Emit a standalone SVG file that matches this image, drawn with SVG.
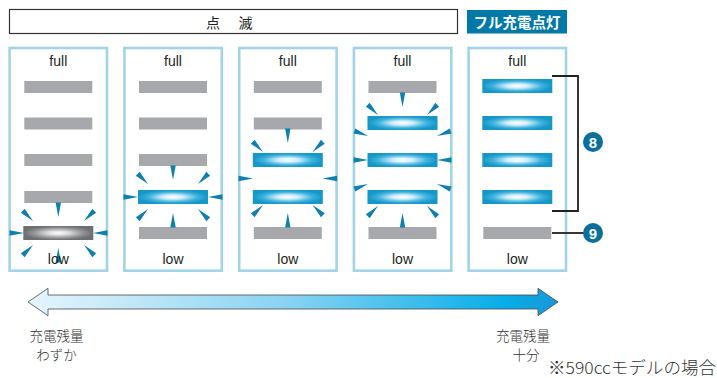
<svg xmlns="http://www.w3.org/2000/svg" xmlns:xlink="http://www.w3.org/1999/xlink" width="717" height="378" viewBox="0 0 717 378">
<style>
.panel{fill:#fff;stroke:#a3d3e6;stroke-width:2.6}
.gray{fill:#a7a8ab}
.lit{fill:url(#litG)}
.litgray{fill:url(#grayG)}
.lbl{font-family:"Liberation Sans",Arial,sans-serif;font-size:14px;fill:#231f20;text-anchor:middle}
.jp{font-family:"Noto Sans CJK JP","Liberation Sans",sans-serif;fill:#231f20}
.thin{font-weight:300;fill:#333}
.ray{fill:#0e7fae}
.num{font-family:"Liberation Sans",Arial,sans-serif;font-size:15px;font-weight:bold;fill:#fff;text-anchor:middle}
.brk{fill:none;stroke:#231f20;stroke-width:1.8}
</style>
<defs>
<radialGradient id="litG" cx="50%" cy="50%" r="50%">
<stop offset="0" stop-color="#ffffff"/>
<stop offset="0.3" stop-color="#d2eef9"/>
<stop offset="0.7" stop-color="#3fb2dd"/>
<stop offset="1" stop-color="#1598c8"/>
</radialGradient>
<radialGradient id="grayG" cx="50%" cy="50%" r="50%">
<stop offset="0" stop-color="#ffffff"/>
<stop offset="0.3" stop-color="#dcdcdd"/>
<stop offset="0.7" stop-color="#949597"/>
<stop offset="1" stop-color="#6e6f72"/>
</radialGradient>
<linearGradient id="arrG" x1="0" y1="0" x2="1" y2="0">
<stop offset="0" stop-color="#e6f5fc"/>
<stop offset="0.5" stop-color="#86d2f1"/>
<stop offset="0.9" stop-color="#06aee8"/>
<stop offset="1" stop-color="#1896d6"/>
</linearGradient>
<path id="ray" d="M0,0 L-2.7,-14.5 L2.7,-14.5 Z"/>
</defs>

<g id="header-blink">
<rect x="9.5" y="9.5" width="448" height="24" fill="#fff" stroke="#333" stroke-width="1.2"/>
<text class="jp" x="213" y="28" font-size="14" text-anchor="middle">点</text>
<text class="jp" x="245.5" y="28" font-size="14" text-anchor="middle">滅</text>
</g>
<g id="header-full">
<rect x="467" y="10" width="100" height="23.5" fill="#0079a6"/>
<text x="517" y="27.5" font-family="Noto Sans CJK JP, Liberation Sans, sans-serif" font-size="14.5" font-weight="bold" fill="#fff" text-anchor="middle">フル充電点灯</text>
</g>

<g id="panel1">
<rect class="panel" x="9.6" y="48" width="97.4" height="222.7"/>
<text class="lbl" x="58.3" y="66">full</text>
<rect class="gray" x="24.3" y="81" width="68" height="12"/>
<rect class="gray" x="24.3" y="117.5" width="68" height="12"/>
<rect class="gray" x="24.3" y="154" width="68" height="12"/>
<rect class="gray" x="24.3" y="191" width="68" height="12"/>
<rect class="litgray" x="23.3" y="226" width="70" height="14"/>
<g class="ray">
<use xlink:href="#ray" transform="translate(58.3,217)"/>
<use xlink:href="#ray" transform="translate(58.3,248) rotate(180)"/>
<use xlink:href="#ray" transform="translate(24,233) rotate(-90)"/>
<use xlink:href="#ray" transform="translate(93,233) rotate(90)"/>
<use xlink:href="#ray" transform="translate(33,221) rotate(-45)"/>
<use xlink:href="#ray" transform="translate(84,221) rotate(45)"/>
<use xlink:href="#ray" transform="translate(33,245) rotate(-135)"/>
<use xlink:href="#ray" transform="translate(84,245) rotate(135)"/>
</g>
<text class="lbl" x="58.3" y="264">low</text>
</g>

<g id="panel2">
<rect class="panel" x="124.4" y="48" width="97.4" height="222.7"/>
<text class="lbl" x="173" y="66">full</text>
<rect class="gray" x="139" y="81" width="68" height="12"/>
<rect class="gray" x="139" y="117.5" width="68" height="12"/>
<rect class="gray" x="139" y="154" width="68" height="12"/>
<rect class="lit" x="138" y="190" width="70" height="14"/>
<rect class="gray" x="139" y="227" width="68" height="12"/>
<g class="ray">
<use xlink:href="#ray" transform="translate(173,180)"/>
<use xlink:href="#ray" transform="translate(173,213) rotate(180)"/>
<use xlink:href="#ray" transform="translate(138,197) rotate(-90)"/>
<use xlink:href="#ray" transform="translate(208,197) rotate(90)"/>
<use xlink:href="#ray" transform="translate(148,184) rotate(-45)"/>
<use xlink:href="#ray" transform="translate(198,184) rotate(45)"/>
<use xlink:href="#ray" transform="translate(148,209) rotate(-135)"/>
<use xlink:href="#ray" transform="translate(198,209) rotate(135)"/>
</g>
<text class="lbl" x="173" y="264">low</text>
</g>

<g id="panel3">
<rect class="panel" x="239.2" y="48" width="97.4" height="222.7"/>
<text class="lbl" x="287.8" y="66">full</text>
<rect class="gray" x="253.8" y="81" width="68" height="12"/>
<rect class="gray" x="253.8" y="117.5" width="68" height="12"/>
<rect class="lit" x="252.8" y="153" width="70" height="14"/>
<rect class="lit" x="252.8" y="190" width="70" height="14"/>
<rect class="gray" x="253.8" y="227" width="68" height="12"/>
<g class="ray">
<use xlink:href="#ray" transform="translate(287.8,143)"/>
<use xlink:href="#ray" transform="translate(287.8,213) rotate(180)"/>
<use xlink:href="#ray" transform="translate(253,178.5) rotate(-90)"/>
<use xlink:href="#ray" transform="translate(322.6,178.5) rotate(90)"/>
<use xlink:href="#ray" transform="translate(263,152) rotate(-45)"/>
<use xlink:href="#ray" transform="translate(312.6,152) rotate(45)"/>
<use xlink:href="#ray" transform="translate(263,205) rotate(-135)"/>
<use xlink:href="#ray" transform="translate(312.6,205) rotate(135)"/>
</g>
<text class="lbl" x="287.8" y="264">low</text>
</g>

<g id="panel4">
<rect class="panel" x="353.9" y="48" width="97.4" height="222.7"/>
<text class="lbl" x="402.5" y="66">full</text>
<rect class="gray" x="368.5" y="81" width="68" height="12"/>
<rect class="lit" x="367.5" y="116" width="70" height="14"/>
<rect class="lit" x="367.5" y="153" width="70" height="14"/>
<rect class="lit" x="367.5" y="190" width="70" height="14"/>
<rect class="gray" x="368.5" y="227" width="68" height="12"/>
<g class="ray">
<use xlink:href="#ray" transform="translate(402.5,107)"/>
<use xlink:href="#ray" transform="translate(402.5,213) rotate(180)"/>
<use xlink:href="#ray" transform="translate(378,115) rotate(-45)"/>
<use xlink:href="#ray" transform="translate(427,115) rotate(45)"/>
<use xlink:href="#ray" transform="translate(378,206) rotate(-135)"/>
<use xlink:href="#ray" transform="translate(427,206) rotate(135)"/>
<use xlink:href="#ray" transform="translate(368,136) rotate(-70)"/>
<use xlink:href="#ray" transform="translate(368,160) rotate(-90)"/>
<use xlink:href="#ray" transform="translate(368,184) rotate(-110)"/>
<use xlink:href="#ray" transform="translate(437,136) rotate(70)"/>
<use xlink:href="#ray" transform="translate(437,160) rotate(90)"/>
<use xlink:href="#ray" transform="translate(437,184) rotate(110)"/>
</g>
<text class="lbl" x="402.5" y="264">low</text>
</g>

<g id="panel5">
<rect class="panel" x="468.6" y="48" width="97.4" height="222.7"/>
<text class="lbl" x="517.3" y="66">full</text>
<rect class="lit" x="482.3" y="79" width="70" height="14"/>
<rect class="lit" x="482.3" y="116" width="70" height="14"/>
<rect class="lit" x="482.3" y="153" width="70" height="14"/>
<rect class="lit" x="482.3" y="190" width="70" height="14"/>
<rect class="gray" x="483.3" y="227" width="68" height="12"/>
<text class="lbl" x="517.3" y="264">low</text>
</g>

<g id="connectors">
<path class="brk" d="M552,76 H578 V211 H552"/>
<path class="brk" d="M552,233 H584"/>
</g>

<g id="badge8">
<circle cx="593" cy="142" r="10" fill="#0a6f9a"/>
<text class="num" x="593" y="147.5">8</text>
</g>
<g id="badge9">
<circle cx="593" cy="233" r="10" fill="#0a6f9a"/>
<text class="num" x="593" y="238.5">9</text>
</g>

<g id="scale-arrow">
<path d="M28,302 L48,288.3 L48,295 L538,295 L538,288.3 L558,302 L538,315.7 L538,309 L48,309 L48,315.7 Z" fill="url(#arrG)" stroke="#4a4a4a" stroke-width="0.8" stroke-linejoin="miter"/>
</g>

<g id="labels-bottom">
<text class="jp thin" font-size="13.5" x="56.5" y="340.5" text-anchor="middle">充電残量</text>
<text class="jp thin" font-size="13.5" x="56.5" y="360.3" text-anchor="middle">わずか</text>
<text class="jp thin" font-size="13.5" x="523" y="340.5" text-anchor="middle">充電残量</text>
<text class="jp thin" font-size="13.5" x="526" y="360.3" text-anchor="middle">十分</text>
<text class="jp thin" font-size="16.5" text-anchor="end" x="716" y="374" textLength="168" lengthAdjust="spacingAndGlyphs">※590ccモデルの場合</text>
</g>
</svg>
